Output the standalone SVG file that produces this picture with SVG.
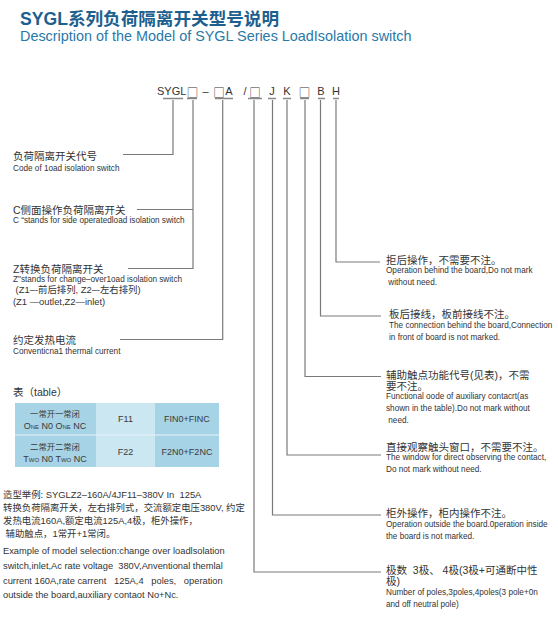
<svg xmlns="http://www.w3.org/2000/svg" width="558" height="632" viewBox="0 0 558 632">
<style>
text{font-family:"Liberation Sans","Noto Sans CJK SC",sans-serif;fill:#333;white-space:pre}
.t1{font-size:17.6px;font-weight:bold;fill:#1d5f8e}
.t2{font-size:14.4px;fill:#2a78a8}
.code{font-size:11px;fill:#333}
.sq{font-family:"Noto Sans CJK SC","DejaVu Sans",sans-serif;font-size:11.5px;fill:#333}
.cn{font-size:10.5px}
.en{font-size:8.2px}
.mid{font-size:9.4px}
.ex{font-size:9.4px}
.exe{font-size:9.3px}
.tb{font-size:8.3px;text-anchor:middle;fill:#3a3a3a}
.tf{font-size:9px;text-anchor:middle;fill:#3a3a3a}
.sc{font-variant:small-caps;font-size:9px}
.ul{stroke:#888;stroke-width:1.4}
.cx{fill:none;stroke:#7a7a7a;stroke-width:1.2}
.dk{fill:#a6d3e5}
.lt{fill:#cbe7f2}
</style>
<g id="title">
<text class="t1" x="20" y="25">SYGL系列负荷隔离开关型号说明</text>
<text class="t2" x="20" y="40.5">Description of the Model of SYGL Series LoadIsolation switch</text>
</g>
<g id="code">
<text class="code" x="157" y="95">SYGL</text>
<text class="sq" x="192.5" y="96.5" text-anchor="middle">□</text>
<text class="code" x="205.5" y="95" text-anchor="middle">–</text>
<text class="sq" x="219" y="96.5" text-anchor="middle">□</text>
<text class="code" x="229" y="95" text-anchor="middle">A</text>
<text class="code" x="245" y="95" text-anchor="middle">/</text>
<text class="sq" x="255" y="96.5" text-anchor="middle">□</text>
<text class="code" x="272" y="95" text-anchor="middle">J</text>
<text class="code" x="287" y="95" text-anchor="middle">K</text>
<text class="sq" x="304.5" y="96.5" text-anchor="middle">□</text>
<text class="code" x="321" y="95" text-anchor="middle">B</text>
<text class="code" x="336" y="95" text-anchor="middle">H</text>
<path class="ul" d="M163 98.5H183M187 98.5H197M215 98.5H233M248 98.5H262M268 98.5H276M283 98.5H291M300 98.5H309M318 98.5H325M333 98.5H339"/>
</g>
<g id="connectors">
<path class="cx" d="M173 100V154.5H123"/>
<path class="cx" d="M193 100V268.5H128M193 209.5H137"/>
<path class="cx" d="M222.7 100V339.5H120"/>
<path class="cx" d="M254 100V572H381"/>
<path class="cx" d="M272.5 100V515H381"/>
<path class="cx" d="M287 100V455H381"/>
<path class="cx" d="M305 100V376.5H381"/>
<path class="cx" d="M320.5 100V316H381"/>
<path class="cx" d="M336 100V262H380"/>
</g>
<g id="n-code">
<text class="cn" x="13" y="160">负荷隔离开关代号</text>
<text class="en" x="13" y="170.5">Code of 1oad isolation switch</text>
</g>
<g id="n-c">
<text class="cn" x="13" y="213.5">C侧面操作负荷隔离开关</text>
<text class="en" x="13" y="222.5">C “stands for side operatedload isolation switch</text>
</g>
<g id="n-z">
<text class="cn" x="13" y="272.5">Z转换负荷隔离开关</text>
<text class="en" x="13" y="281.5">Z"stands for change–over1oad isolation switch</text>
<text class="mid" x="13" y="292.5"> (Z1–-前后排列, Z2–-左右排列)</text>
<text class="mid" x="13" y="305">(Z1 —outlet,Z2—inlet)</text>
</g>
<g id="n-current">
<text class="cn" x="13" y="344">约定发热电流</text>
<text class="en" x="13" y="354">Conventicna1 thermal current</text>
</g>
<g id="table">
<text class="cn" x="13" y="396">表（table）</text>
<rect class="dk" x="15" y="403" width="81" height="64"/>
<rect class="lt" x="96" y="403" width="59" height="64"/>
<rect class="dk" x="155" y="403" width="64" height="64"/>
<path d="M15 435H219" stroke="#e6f3f9" stroke-width="1"/>
<text class="tb" x="55" y="417">一常开一常闭</text>
<text class="tb sc" x="55" y="428.5">One N0 One NC</text>
<text class="tf" x="125.5" y="422">F11</text>
<text class="tf" x="187" y="422">FIN0+FINC</text>
<text class="tb" x="55" y="450">二常开二常闭</text>
<text class="tb sc" x="55" y="461.5">Two N0 Two NC</text>
<text class="tf" x="125.5" y="455">F22</text>
<text class="tf" x="187" y="455">F2N0+F2NC</text>
</g>
<g id="example">
<text class="ex" x="3" y="498">造型举例: SYGLZ2–160A/4JF11–380V In  125A</text>
<text class="ex" x="3" y="511">转换负荷隔离开关，左右排列式，交流额定电压380V, 约定</text>
<text class="ex" x="3" y="524">发热电流160A,额定电流125A,4极，柜外操作，</text>
<text class="ex" x="3" y="537"> 辅助触点，1常开+1常闭。</text>
<text class="exe" x="3" y="554">Example of model selection:change over loadlsolation</text>
<text class="exe" x="3" y="569">switch,inlet,Ac rate voltage  380V,Anventional themlal</text>
<text class="exe" x="3" y="584">current 160A,rate carrent   125A,4   poles,   operation</text>
<text class="exe" x="3" y="598">outside the board,auxiliary contaot No+Nc.</text>
</g>
<g id="n-h">
<text class="cn" x="386" y="264">拒后操作，不需要不注。</text>
<text class="en" x="386" y="273">Operation behind the board,Do not mark</text>
<text class="en" x="386" y="285"> without need.</text>
</g>
<g id="n-b">
<text class="cn" x="389" y="318">板后接线，板前接线不注。</text>
<text class="en" x="389" y="327.5">The connection behind the board,Connection</text>
<text class="en" x="389" y="340">in front of board is not marked.</text>
</g>
<g id="n-aux">
<text class="cn" x="386" y="378.5">辅助触点功能代号(见表)，不需</text>
<text class="cn" x="386" y="390">要不注。</text>
<text class="en" x="386" y="399">Functional oode of auxiliary contacrt(as</text>
<text class="en" x="386" y="411">shown in the table).Do not mark without</text>
<text class="en" x="386" y="422.5"> need.</text>
</g>
<g id="n-k">
<text class="cn" x="386" y="451">直接观察触头窗口，不需要不注。</text>
<text class="en" x="386" y="460">The window for direct observing the contact,</text>
<text class="en" x="386" y="472">Do not mark without need.</text>
</g>
<g id="n-j">
<text class="cn" x="386" y="517">柜外操作，柜内操作不注。</text>
<text class="en" x="386" y="526.5">Operation outside the board.0peration inside</text>
<text class="en" x="386" y="538.5">the board is not marked.</text>
</g>
<g id="n-poles">
<text class="cn" x="386" y="573.5">极数  3极、 4极(3极+可通断中性</text>
<text class="cn" x="386" y="585">极)</text>
<text class="en" x="386" y="594.5">Number of poles,3poles,4poles(3 pole+0n</text>
<text class="en" x="386" y="606.5">and off neutral pole)</text>
</g>
</svg>
